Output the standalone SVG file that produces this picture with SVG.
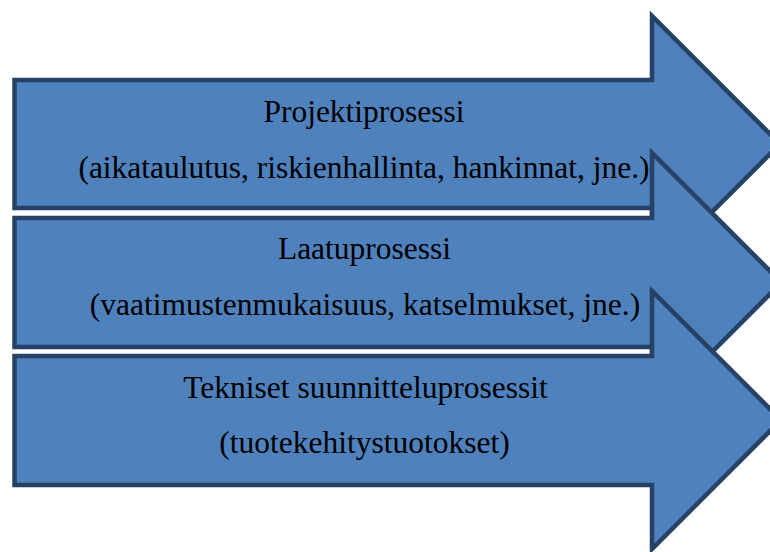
<svg xmlns="http://www.w3.org/2000/svg" width="770" height="552" viewBox="0 0 770 552">
  <style>
    .arrow { fill: #4F81BD; stroke: #264266; stroke-width: 4.5; stroke-linejoin: miter; stroke-miterlimit: 10; }
    .label { font-family: "Liberation Serif", "Times New Roman", serif; font-size: 31.5px; fill: #000; text-anchor: middle; }
  </style>
  <rect width="770" height="552" fill="#fff"/>
  <g id="connectors"/>
  <!-- Three overlapping block arrows, drawn top to bottom so each covers the one above -->
  <g id="node-projektiprosessi">
    <path class="arrow" d="M14.5,80 H652 V16 L780,144 L652,272 V208 H14.5 Z"/>
    <text class="label" x="364" y="122">Projektiprosessi</text>
    <text class="label" x="364" y="178">(aikataulutus, riskienhallinta, hankinnat, jne.)</text>
  </g>
  <g id="node-laatuprosessi">
    <path class="arrow" d="M14.5,218 H652 V153 L781.5,282.5 L652,412 V347 H14.5 Z"/>
    <text class="label" x="364.5" y="259">Laatuprosessi</text>
    <text class="label" x="365" y="315">(vaatimustenmukaisuus, katselmukset, jne.)</text>
  </g>
  <g id="node-tekniset">
    <path class="arrow" d="M14.5,356 H652 V291 L781,420 L652,549 V485 H14.5 Z"/>
    <text class="label" x="365.5" y="398">Tekniset suunnitteluprosessit</text>
    <text class="label" x="364.5" y="453">(tuotekehitystuotokset)</text>
  </g>
</svg>
